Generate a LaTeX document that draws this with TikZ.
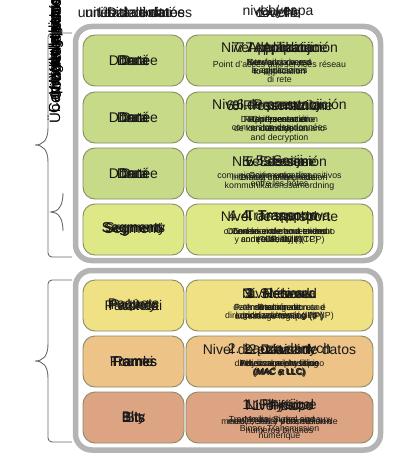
\documentclass[tikz,border=0pt]{standalone}
\usepackage{fontspec}
\setmainfont{Liberation Sans}
\definecolor{framegray}{RGB}{180,180,180}
\definecolor{cellborder}{RGB}{135,140,105}
\definecolor{bracketgray}{RGB}{105,105,105}
\definecolor{hostgreen}{RGB}{198,218,135}
\definecolor{transyellow}{RGB}{223,232,135}
\definecolor{netyellow}{RGB}{239,225,132}
\definecolor{linkorange}{RGB}{237,195,135}
\definecolor{physsalmon}{RGB}{220,164,130}
\definecolor{inktext}{RGB}{25,25,25}
\tikzset{
  frame/.style={draw=framegray, line width=5.5pt, rounded corners=16pt, fill=white, minimum width=305pt, inner sep=0pt},
  cell/.style={draw=cellborder, line width=0.9pt, rounded corners=12pt, minimum height=51pt, inner sep=0pt},
  unitcell/.style={cell, minimum width=101pt},
  layercell/.style={cell, minimum width=187pt},
  bigtext/.style={font=\fontsize{14}{16}\selectfont, inner sep=0pt, text=inktext},
  desctext/.style={font=\fontsize{8.8}{8.2}\selectfont, align=center, inner sep=0pt, anchor=north, text=inktext},
  headtext/.style={font=\fontsize{14}{16}\selectfont, inner sep=0pt, text=inktext},
  sidetext/.style={font=\fontsize{15}{17}\selectfont, inner sep=0pt, rotate=90, text=black},
  bracket/.style={draw=bracketgray, line width=0.9pt}
}
% #1 suffix, #2 y centre, #3 fill colour, #4 unit words, #5 titles, #6 descriptions
\newcommand\osirow[6]{%
  \node[unitcell, fill=#3] (u#1) at (133.5,#2) {};
  \node[layercell, fill=#3] (l#1) at (279.5,#2) {};
  \foreach \w [count=\i] in {#4} \node[bigtext] (uw#1\i) at (133.5,#2) {\w};
  \foreach \w [count=\i] in {#5} \node[bigtext] (lt#1\i) at (279.5,#2-12) {\w};
  \foreach \w [count=\i] in {#6} \node[desctext] (ld#1\i) at (279.5,#2-1.5) {\w};
}
\begin{document}
\begin{tikzpicture}[x=1pt,y=-1pt]
\useasboundingbox (0,0) rectangle (405,476);

% header
\foreach \w [count=\i] in {{unidad de datos},{unités de données},{Data unit},{Unità di dati}}
  \node[headtext] (hu\i) at (135,12) {\w};
\foreach \w [count=\i] in {{nivel / capa},{Layer},{Livello},{couche}}
  \node[headtext] (hl\i) at (278,12) {\w};

% side labels (vertical)
\foreach \w [count=\i] in {{Couches hautes},{Host layers},{Niveles de host},{Livelli host},{Warstwy hosta},{Capas de aplicación},{Värdlager},{Übertragungsschichten}}
  \node[sidetext] (side\i) at (55.5,46) {\w};

% brackets
\draw[bracket, rounded corners=4pt] (72,33) -- (48,33) -- (48,128);
\draw[bracket] (48,128) .. controls (48,140) and (43,145) .. (35,145) .. controls (43,145) and (48,150) .. (48,162);
\draw[bracket, rounded corners=4pt] (48,162) -- (48,257) -- (72,257);
\draw[bracket] (63,193) .. controls (63,206) and (58,212) .. (51,212) .. controls (58,212) and (63,218) .. (63,231);

\draw[bracket, rounded corners=4pt] (72,280) -- (48,280) -- (48,344);
\draw[bracket] (48,344) .. controls (48,356) and (43,361) .. (35,361) .. controls (43,361) and (48,366) .. (48,378);
\draw[bracket, rounded corners=4pt] (48,378) -- (48,442) -- (72,442);

% frames
\node[frame, minimum height=234pt] (hostframe) at (228,143.5) {};
\node[frame, minimum height=179.5pt] (mediaframe) at (228,360.25) {};

% rows
\osirow{1}{60.5}{hostgreen}
  {{Donnée},{Data},{Dati},{Dane}}
  {{Nivel de aplicación},{7. Application},{7. Applicazione},{7. Aplikacji}}
  {{Network process\\to application},{Servicios de red\\a aplicaciones},{\\Point d'accès aux services réseau},{Interfaccia verso\\le applicazioni\\di rete}}
\osirow{2}{117.5}{hostgreen}
  {{Donnée},{Data},{Dati},{Dane}}
  {{Nivel de presentación},{6. Presentation},{6. Presentazione},{6. Prezentacji}}
  {{Data representation\\and encryption\\and decryption},{Representación\\de los datos de usuario},{Chiffrement et\\conversion des données},{Rappresentazione\\dei dati}}
\osirow{3}{173.5}{hostgreen}
  {{Donnée},{Data},{Dati},{Dane}}
  {{Nivel de sesión},{5. Session},{5. Sessione},{5. Sesji}}
  {{comunicación entre dispositivos},{\\Interhost communication},{Communication\\entre les hôtes},{\\\\kommunikationssamordning},{\\Dialog mellan noder}}
\osirow{4}{229.5}{transyellow}
  {{Segments},{Segmenty},{Segmenti},{Segment}}
  {{Nivel de transporte},{4. Transport},{4. Trasporto},{4. Transportowa}}
  {{conexión extremo a extremo\\y control de flujo (TCP)},{End-to-end connections\\and reliability (TCP)},{Connexion de bout en bout\\(TCP, UDP)},{Connessione end-to-end\\e affidabilità}}
\osirow{5}{305.5}{netyellow}
  {{Pacchetti},{Pakiety},{Paquets},{Packets}}
  {{Nivel de red},{3. Network},{3. Réseau},{3. Sieciowa}}
  {{determinación de ruta e\\direccionamiento lógico (IP)},{Path determination and\\logical addressing (IP)},{Routage et\\adressage logique (IP)},{Instradamento e\\indirizzamento (IP)}}
\osirow{6}{361.5}{linkorange}
  {{Frames},{Ramki},{Trames},{Frame}}
  {{Nivel de enlace de datos},{2. Data link},{2. Liaison},{2. Łącza danych}}
  {{direccionamiento físico\\(MAC y LLC)},{Physical addressing\\(MAC \& LLC)},{Adressage physique\\(MAC et LLC)},{Indirizzamento fisico\\(MAC e LLC)}}
\osirow{7}{417.5}{physsalmon}
  {{Bity},{Bits},{Bit},{Bits}}
  {{Nivel físico},{1. Physical},{1. Physique},{1. Fisico}}
  {{Media, Signal and\\Binary Transmission},{\\medio, señal y transmisión},{Transmission des signaux\\\\numérique},{\\medio, señal y transmisión de\\números binarios}}
\end{tikzpicture}
\end{document}
